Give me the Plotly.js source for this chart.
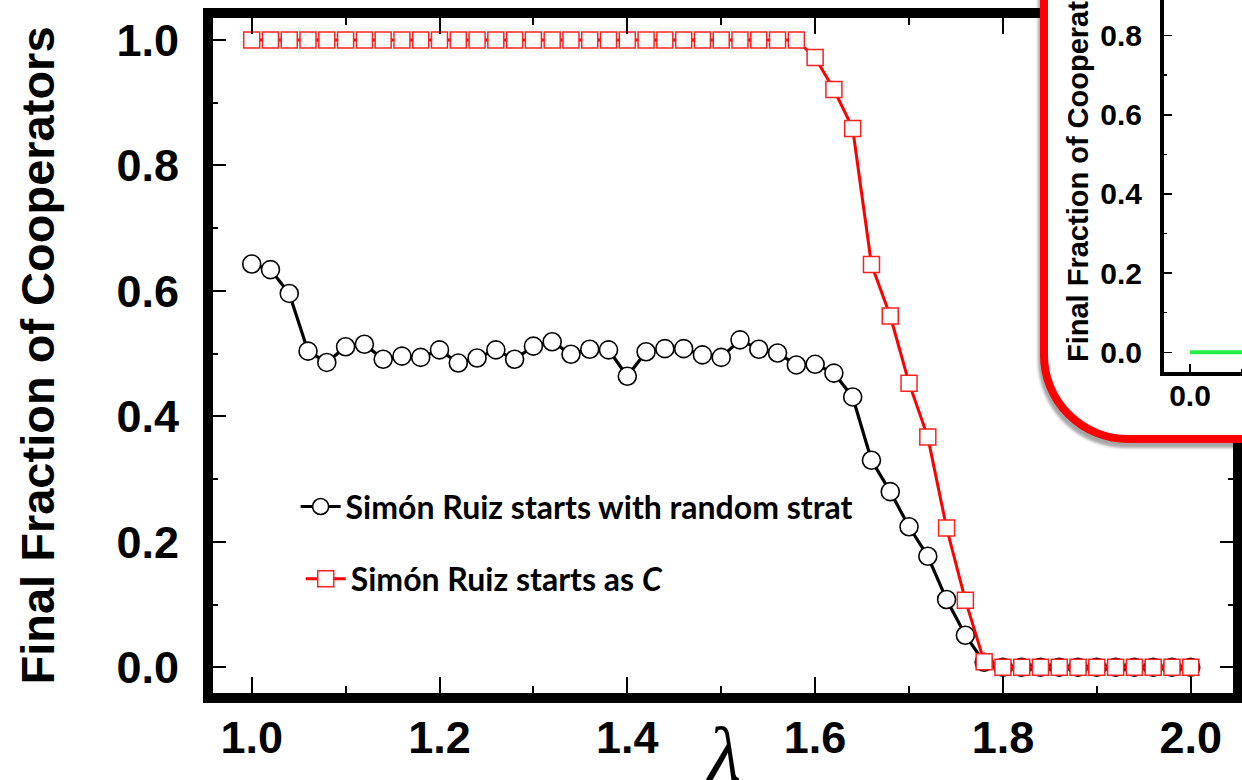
<!DOCTYPE html>
<html>
<head>
<meta charset="utf-8">
<script src="https://cdn.plot.ly/plotly-3.0.1.min.js"></script>
<style>
  html, body { margin:0; padding:0; background:#fff; }
  body { width:1242px; height:780px; overflow:hidden; position:relative; }
  #main { position:absolute; left:0; top:0; width:1242px; height:780px; }
  #insetBox { position:absolute; left:1040px; top:-62px; width:420px; height:505px; box-sizing:border-box;
              border:8px solid #ff0000; border-radius:0 0 0 88px; background:#fff; overflow:hidden;
              box-shadow:-2px 5px 3px rgba(0,0,0,0.35); }
  #inset { width:404px; height:489px; }
</style>
</head>
<body>
<div id="main"></div>
<div id="insetBox"><div id="inset"></div></div>
<script>
// ---- data ----
const lambda = [1.00,1.02,1.04,1.06,1.08,1.10,1.12,1.14,1.16,1.18,
                1.20,1.22,1.24,1.26,1.28,1.30,1.32,1.34,1.36,1.38,
                1.40,1.42,1.44,1.46,1.48,1.50,1.52,1.54,1.56,1.58,
                1.60,1.62,1.64,1.66,1.68,1.70,1.72,1.74,1.76,1.78,
                1.80,1.82,1.84,1.86,1.88,1.90,1.92,1.94,1.96,1.98,2.00];
const randomStart = [0.643,0.634,0.596,0.504,0.486,0.511,0.515,0.491,0.496,0.494,
                     0.506,0.485,0.493,0.506,0.491,0.512,0.519,0.499,0.507,0.506,
                     0.464,0.503,0.508,0.508,0.498,0.494,0.522,0.507,0.501,0.482,
                     0.483,0.469,0.431,0.330,0.280,0.224,0.177,0.108,0.051,0.008,
                     0,0,0,0,0,0,0,0,0,0,0];
const cooperatorStart = [1,1,1,1,1,1,1,1,1,1,
                         1,1,1,1,1,1,1,1,1,1,
                         1,1,1,1,1,1,1,1,1,1,
                         0.972,0.921,0.859,0.642,0.560,0.453,0.367,0.222,0.107,0.009,
                         0,0,0,0,0,0,0,0,0,0,0];
const seriesNames = ['Simón Ruiz starts with random strat', 'Simón Ruiz starts as <i>C</i>'];
const xTickVals = [1.0,1.2,1.4,1.6,1.8,2.0];
const xTickText = ['1.0','1.2','1.4','1.6','1.8','2.0'];
const yTickVals = [0.0,0.2,0.4,0.6,0.8,1.0];
const yTickText = ['0.0','0.2','0.4','0.6','0.8','1.0'];
const yTitle = 'Final Fraction of Cooperators';
const xTitle = '<i>λ</i>';
// inset data
const insetX = [0.0,0.1,0.2,0.3,0.4,0.5];
const insetY = [0,0,0,0,0,0];
const insetXTickVals = [0.0];
const insetXTickText = ['0.0'];
const insetYTickVals = [0.0,0.2,0.4,0.6,0.8,1.0];
const insetYTickText = ['0.0','0.2','0.4','0.6','0.8','1.0'];

// ---- main chart ----
const tickFont = {family:'Liberation Sans, Arial, sans-serif', size:45, color:'#000', weight:700};
const legendFont = {family:'Lato, sans-serif', size:32, color:'#000', weight:700};
const traces = [
  {x:lambda, y:randomStart, name:seriesNames[0], type:'scatter', mode:'lines+markers',
   line:{color:'#000', width:3.2},
   marker:{symbol:'circle', size:18, color:'#fff', line:{color:'#000', width:1.6}},
   legend:'legend'},
  {x:lambda, y:cooperatorStart, name:seriesNames[1], type:'scatter', mode:'lines+markers',
   line:{color:'#ff0000', width:3},
   marker:{symbol:'square', size:16, color:'#fff', line:{color:'#ff2020', width:1.5}},
   legend:'legend2'}
];
const axisCommon = {
  showline:true, linecolor:'#000', linewidth:10, mirror:'ticks',
  ticks:'inside', tickcolor:'#000', tickwidth:2,
  showgrid:false, zeroline:false, tickfont:tickFont
};
const layout = {
  width:1242, height:780,
  margin:{l:213, r:9, t:18, b:87, pad:0},
  paper_bgcolor:'#fff', plot_bgcolor:'#fff',
  xaxis:Object.assign({}, axisCommon, {
    range:[0.9588, 2.045], tickvals:xTickVals, ticktext:xTickText, ticklen:16,
    minor:{dtick:0.1, tick0:0, ticks:'inside', ticklen:7, tickwidth:2, tickcolor:'#000'},
    ticklabelstandoff:-4
  }),
  yaxis:Object.assign({}, axisCommon, {
    range:[-0.041, 1.0351], tickvals:yTickVals, ticktext:yTickText, ticklen:13,
    minor:{dtick:0.1, tick0:0, ticks:'inside', ticklen:5, tickwidth:2, tickcolor:'#000'},
    ticklabelstandoff:15,
    title:{text:yTitle, font:{family:'Liberation Sans, Arial, sans-serif', size:47, color:'#000', weight:700}, standoff:51}
  }),
  showlegend:true,
  legend:{x:0.081, xanchor:'left', y:0.276, yanchor:'middle', bgcolor:'rgba(0,0,0,0)', font:legendFont, itemwidth:40},
  legend2:{x:0.086, xanchor:'left', y:0.169, yanchor:'middle', bgcolor:'rgba(0,0,0,0)', font:legendFont, itemwidth:40},
  annotations:[
    {text:xTitle, xref:'paper', yref:'paper', x:0.5, y:0, xanchor:'center', yanchor:'top',
     yshift:-17, showarrow:false,
     font:{family:'Liberation Serif, Times New Roman, serif', size:76, color:'#000'}}
  ]
};
Plotly.newPlot('main', traces, layout, {staticPlot:true});

// ---- inset chart ----
const insetTickFont = {family:'Liberation Sans, Arial, sans-serif', size:30, color:'#000', weight:700};
const insetAxis = {
  showline:true, linecolor:'#000', linewidth:4, mirror:false,
  ticks:'inside', tickcolor:'#000', tickwidth:1.5,
  showgrid:false, zeroline:false, tickfont:insetTickFont
};
Plotly.newPlot('inset', [
  {x:insetX, y:insetY, type:'scatter', mode:'lines', line:{color:'#22ee44', width:4}, showlegend:false}
], {
  width:404, height:489,
  margin:{l:116, r:0, t:0, b:63, pad:0},
  paper_bgcolor:'rgba(0,0,0,0)', plot_bgcolor:'rgba(0,0,0,0)',
  xaxis:Object.assign({}, insetAxis, {range:[-0.05, 0.5038], tickvals:insetXTickVals, ticktext:insetXTickText, ticklen:8,
    minor:{dtick:0.1, ticks:'inside', ticklen:3, tickwidth:1.5, tickcolor:'#000'}, ticklabelstandoff:-6}),
  yaxis:Object.assign({}, insetAxis, {range:[-0.0497, 1.0265], tickvals:insetYTickVals, ticktext:insetYTickText, ticklen:8,
    minor:{dtick:0.1, ticks:'inside', ticklen:3, tickwidth:1.5, tickcolor:'#000'}, ticklabelstandoff:12,
    title:{text:yTitle, font:{family:'Liberation Sans, Arial, sans-serif', size:29, color:'#000', weight:700}, standoff:4}})
}, {staticPlot:true});
</script>
</body>
</html>
